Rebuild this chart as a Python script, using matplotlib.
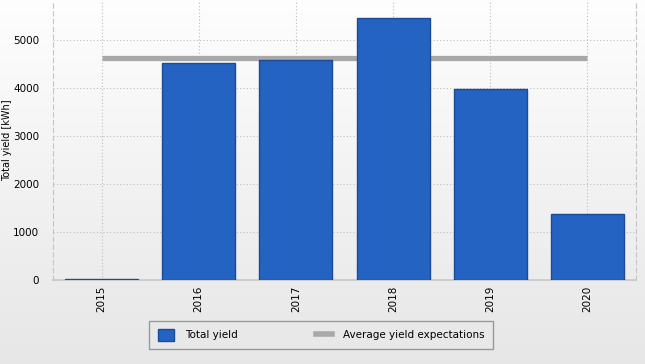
import matplotlib.pyplot as plt
import numpy as np
from matplotlib.lines import Line2D
from matplotlib.patches import Patch

# data
years = ["2015", "2016", "2017", "2018", "2019", "2020"]
total_yield = [12, 4515, 4580, 5460, 3980, 1375]
avg_expectation = 4615

bar_color = "#2463c1"
bar_edge = "#1c4a94"
line_color = "#a8a8a8"

fig = plt.figure(figsize=(6.45, 3.64), dpi=100)

# soft grey background gradient over the whole figure (white top -> light grey bottom)
bg = fig.add_axes([0, 0, 1, 1], zorder=-10)
shade = np.linspace(0.995, 0.905, 256)
grad = np.dstack([shade, shade, shade]).reshape(256, 1, 3)
bg.imshow(grad, aspect="auto", extent=[0, 1, 0, 1])
bg.axis("off")

ax = fig.add_axes([53 / 645, 1 - 280 / 364, (636 - 53) / 645, 280 / 364])
ax.patch.set_alpha(0)

x = np.arange(len(years))
# expectation line sits behind the bars
ax.plot([x[0], x[-1]], [avg_expectation, avg_expectation], color=line_color,
        linewidth=3.8, solid_capstyle="butt", zorder=2)
ax.bar(x, total_yield, width=0.75, color=bar_color, edgecolor=bar_edge,
       linewidth=1, zorder=3)

ax.set_xlim(-0.5, len(years) - 0.5)
ax.set_ylim(0, 5830)
ax.set_yticks([0, 1000, 2000, 3000, 4000, 5000])
ax.set_xticks(x)
ax.set_xticklabels(years, rotation=90)
ax.tick_params(axis="both", labelsize=7.5, length=0, pad=4)
ax.tick_params(axis="y", pad=10)

ax.grid(True, color="#bdbdbd", linestyle=(0, (1, 2)), linewidth=0.8, zorder=0)
ax.set_axisbelow(True)

for side in ["left", "right"]:
    ax.spines[side].set_color("#c4c4c4")
    ax.spines[side].set_linestyle((0, (4, 3)))
ax.spines["top"].set_visible(False)
ax.spines["bottom"].set_color("#c4c8cc")
ax.spines["bottom"].set_linewidth(1.2)

ax.set_ylabel("Total yield [kWh]", fontsize=7)
ax.yaxis.set_label_coords(-0.070, 0.5)

handles = [
    Patch(facecolor=bar_color, edgecolor=bar_edge, label="Total yield"),
    Line2D([0], [0], color=line_color, linewidth=4,
           label="Average yield expectations"),
]
leg = fig.legend(handles=handles, loc="center", ncol=2,
                 bbox_to_anchor=(321 / 645, 1 - 335 / 364), fontsize=7.5,
                 frameon=True, fancybox=False, columnspacing=7.5,
                 handlelength=1.6, handleheight=1.3, handletextpad=1.0,
                 borderpad=0.8)
leg.get_frame().set_edgecolor("#7d8891")
leg.get_frame().set_facecolor("#e9e9e9")
leg.get_frame().set_linewidth(1)

fig.savefig("out.png", dpi=100)
